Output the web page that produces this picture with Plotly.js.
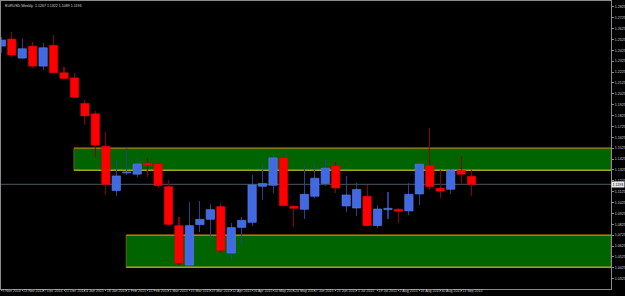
<!DOCTYPE html>
<html>
<head>
<meta charset="utf-8">
<script src="https://cdn.plot.ly/plotly-3.0.1.min.js"></script>
<style>html,body{margin:0;padding:0;background:#000;}#chart{width:625px;height:296px;}</style>
</head>
<body>
<div id="chart"></div>
<script>
// Weekly bars (week start dates, MT4 style)
const weeks = ["9 Nov 2014","16 Nov 2014","23 Nov 2014","30 Nov 2014","7 Dec 2014","14 Dec 2014","21 Dec 2014","28 Dec 2014",
  "4 Jan 2015","11 Jan 2015","18 Jan 2015","25 Jan 2015","1 Feb 2015","8 Feb 2015","15 Feb 2015","22 Feb 2015",
  "1 Mar 2015","8 Mar 2015","15 Mar 2015","22 Mar 2015","29 Mar 2015","5 Apr 2015","12 Apr 2015","19 Apr 2015",
  "26 Apr 2015","3 May 2015","10 May 2015","17 May 2015","24 May 2015","31 May 2015","7 Jun 2015","14 Jun 2015",
  "21 Jun 2015","28 Jun 2015","5 Jul 2015","12 Jul 2015","19 Jul 2015","26 Jul 2015","2 Aug 2015","9 Aug 2015",
  "16 Aug 2015","23 Aug 2015","30 Aug 2015","6 Sep 2015","13 Sep 2015","20 Sep 2015"];
const openP  = [1.2464,1.2529,1.2354,1.2464,1.2280,1.2471,1.2219,1.2172,1.1937,1.1841,1.1543,1.1135,1.1298,1.1286,1.1387,1.1380,
  1.1172,1.0813,1.0450,1.0822,1.0871,1.0988,1.0561,1.0797,1.0843,1.1175,1.1184,1.1436,1.0991,1.0963,1.1083,1.1200,
  1.1362,1.0994,1.0975,1.1083,1.0813,1.0960,1.0963,1.0948,1.1104,1.1366,1.1157,1.1147,1.1322,1.1267];
const highP  = [1.2547,1.2598,1.2529,1.2499,1.2495,1.2569,1.2268,1.2219,1.1967,1.1866,1.1675,1.1415,1.1531,1.1436,1.1436,1.1390,
  1.1230,1.0896,1.1030,1.1037,1.1016,1.1025,1.0834,1.0892,1.1283,1.1384,1.1461,1.1442,1.1000,1.1368,1.1380,1.1424,
  1.1399,1.1267,1.1203,1.1184,1.1003,1.1120,1.0979,1.1203,1.1387,1.1709,1.1322,1.1338,1.1454,1.1322];
const lowP   = [1.2400,1.2368,1.2349,1.2265,1.2243,1.2213,1.2158,1.1990,1.1743,1.1445,1.1099,1.1083,1.1276,1.1258,1.1261,1.1159,
  1.0816,1.0452,1.0440,1.0751,1.0699,1.0561,1.0506,1.0641,1.0807,1.1053,1.1117,1.0991,1.0800,1.0871,1.1071,1.1178,
  1.1113,1.0938,1.0902,1.0807,1.0791,1.0874,1.0834,1.0908,1.1000,1.1138,1.1071,1.1108,1.1200,1.1089];
const closeP = [1.2520,1.2382,1.2440,1.2280,1.2449,1.2219,1.2167,1.1992,1.1822,1.1553,1.1193,1.1270,1.1307,1.1380,1.1368,1.1181,
  1.0825,1.0469,1.0813,1.0871,1.0960,1.0586,1.0795,1.0862,1.1187,1.1200,1.1436,1.0997,1.0972,1.1101,1.1249,1.1341,
  1.1159,1.1095,1.1145,1.0813,1.0966,1.0972,1.0945,1.1101,1.1378,1.1172,1.1129,1.1322,1.1286,1.1193];
// labels
const xTickLabels = ["9 Nov 2014","23 Nov 2014","7 Dec 2014","21 Dec 2014","4 Jan 2015","18 Jan 2015","1 Feb 2015","15 Feb 2015",
  "1 Mar 2015","15 Mar 2015","29 Mar 2015","12 Apr 2015","26 Apr 2015","10 May 2015","24 May 2015","7 Jun 2015",
  "21 Jun 2015","5 Jul 2015","19 Jul 2015","2 Aug 2015","16 Aug 2015","30 Aug 2015","13 Sep 2015"];
const yTicks = [1.0225,1.0325,1.0425,1.0525,1.0625,1.0725,1.0825,1.0925,1.1025,1.1125,1.1225,1.1325,1.1425,1.1525,
  1.1625,1.1725,1.1825,1.1925,1.2025,1.2125,1.2225,1.2325,1.2425,1.2525,1.2625,1.2725,1.2825];
const zoneUpper = [1.1322, 1.1525];
const zoneLower = [1.0429, 1.0724];
const symbol = "EURUSD,Weekly";

const n = weeks.length;
const bull = closeP.map((c,i)=> c >= openP[i]);
const wickBase = lowP.slice();
const wickLen = highP.map((h,i)=> h - lowP[i]);
const bodyBase = openP.map((o,i)=> Math.min(o, closeP[i]));
const bodyLen = openP.map((o,i)=> Math.max(Math.abs(closeP[i]-o), 0.0006));
const lastClose = closeP[n-1];

const wicks = {
  type:'bar', x: weeks, y: wickLen, base: wickBase, width: 0.1,
  marker:{color: bull.map(b=> b ? '#2a3f8f' : '#8b0000'), line:{width:0}},
  hoverinfo:'skip', showlegend:false
};
const bodies = {
  type:'bar', x: weeks, y: bodyLen, base: bodyBase, width: 0.8,
  marker:{color: bull.map(b=> b ? '#4169e1' : '#ff0000'),
          line:{width:0.6, color: bull.map(b=> b ? '#5a80f0' : '#e00000')}},
  hoverinfo:'skip', showlegend:false
};

const xEnd = 58.34;
const layout = {
  width:625, height:296,
  paper_bgcolor:'#000', plot_bgcolor:'#000',
  margin:{l:1, r:14, t:1, b:7},
  barmode:'overlay', bargap:0,
  showlegend:false,
  font:{family:'Liberation Sans, Arial, sans-serif', size:3.6, color:'#d0d0d0'},
  xaxis:{type:'category', range:[-0.03, xEnd], showgrid:false, zeroline:false,
    showline:true, linecolor:'#8a8a8a', linewidth:1, mirror:true,
    tickmode:'array', tickvals: xTickLabels, ticktext: xTickLabels,
    ticks:'outside', ticklen:1, tickcolor:'#8a8a8a', ticklabelposition:'outside right',
    tickangle:0, ticklabelstandoff:-2,
    tickfont:{size:3.6, color:'#d0d0d0'}, fixedrange:true},
  yaxis:{side:'right', range:[1.0230, 1.2879], showgrid:false, zeroline:false,
    showline:true, linecolor:'#8a8a8a', linewidth:1, mirror:true,
    tickmode:'array', tickvals: yTicks, ticktext: yTicks.map(v=>v.toFixed(4)),
    ticks:'outside', ticklen:2, tickcolor:'#8a8a8a',
    tickfont:{size:3.6, color:'#d0d0d0'}, fixedrange:true},
  shapes:[
    {type:'rect', layer:'below', xref:'x', yref:'y', x0:6.95, x1:xEnd, y0:zoneUpper[0], y1:zoneUpper[1],
      fillcolor:'#006400', line:{color:'#5a6a00', width:1}},
    {type:'line', layer:'below', xref:'x', yref:'y', x0:6.95, x1:xEnd, y0:zoneUpper[1], y1:zoneUpper[1], line:{color:'#7f7a08', width:1.5}},
    {type:'line', layer:'below', xref:'x', yref:'y', x0:6.95, x1:xEnd, y0:zoneUpper[0], y1:zoneUpper[0], line:{color:'#a8a020', width:1.5}},
    {type:'rect', layer:'below', xref:'x', yref:'y', x0:11.95, x1:xEnd, y0:zoneLower[0], y1:zoneLower[1],
      fillcolor:'#006400', line:{color:'#5a6a00', width:1}},
    {type:'line', layer:'below', xref:'x', yref:'y', x0:11.95, x1:xEnd, y0:zoneLower[1], y1:zoneLower[1], line:{color:'#c87000', width:1.5}},
    {type:'line', layer:'below', xref:'x', yref:'y', x0:11.95, x1:xEnd, y0:zoneLower[0], y1:zoneLower[0], line:{color:'#a8a020', width:1.5}},
    {type:'line', layer:'below', xref:'paper', yref:'y', x0:0, x1:1, y0:lastClose, y1:lastClose, line:{color:'#4e5864', width:1}}
  ],
  annotations:[
    {xref:'paper', yref:'paper', x:0.003, y:0.997, xanchor:'left', yanchor:'top', showarrow:false,
      text: symbol + '  ' + [openP[n-1],highP[n-1],lowP[n-1],closeP[n-1]].map(v=>v.toFixed(4)).join(' '),
      font:{size:3.6, color:'#d8d8d8'}},
    {xref:'paper', yref:'y', x:1, y:lastClose, xanchor:'left', yanchor:'middle', showarrow:false,
      text: lastClose.toFixed(4), bgcolor:'#e8e8e8', borderpad:0.5,
      font:{size:3.6, color:'#000'}}
  ]
};
Plotly.newPlot('chart', [wicks, bodies], layout, {staticPlot:true, displayModeBar:false});
</script>
</body>
</html>
